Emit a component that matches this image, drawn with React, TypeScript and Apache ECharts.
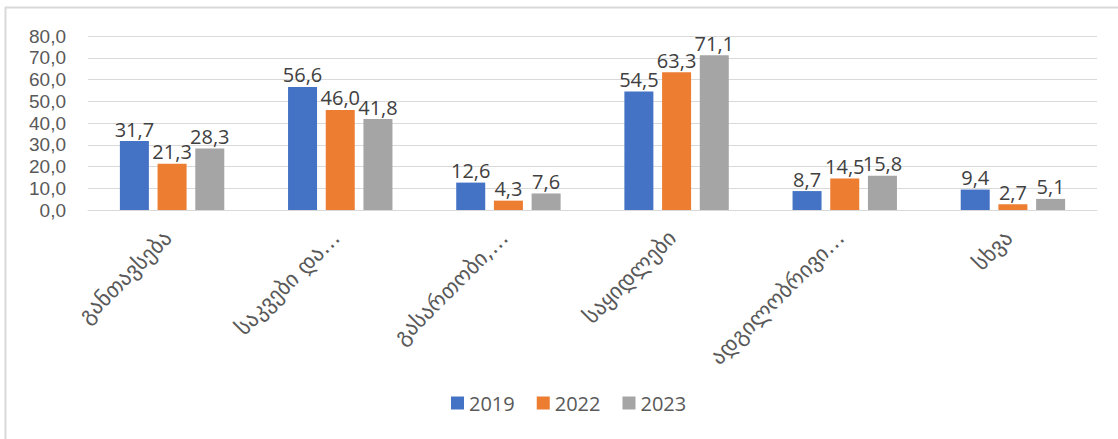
import React, { useEffect, useRef } from "react";
import * as echarts from "echarts";

const categories = [
  "განთავსება",
  "საკვები და…",
  "გასართობი,…",
  "საყიდლები",
  "ადგილობრივი…",
  "სხვა",
];
const seriesNames = ["2019", "2022", "2023"];
const values2019 = [31.7, 56.6, 12.6, 54.5, 8.7, 9.4];
const values2022 = [21.3, 46.0, 4.3, 63.3, 14.5, 2.7];
const values2023 = [28.3, 41.8, 7.6, 71.1, 15.8, 5.1];
const colors = ["#4472C4", "#ED7D31", "#A5A5A5"];

const fmt = (v: number) => v.toFixed(1).replace(".", ",");

export default function App() {
  const ref = useRef<HTMLDivElement>(null);
  useEffect(() => {
    document.body.style.margin = "0";
    const chart = echarts.init(ref.current!, null, { renderer: "svg" });
    const data = [values2019, values2022, values2023];
    chart.setOption({
      animation: false,
      backgroundColor: "#ffffff",
      textStyle: { fontFamily: "Open Sans" },
      graphic: [
        {
          type: "line",
          shape: { x1: 5.5, y1: 7, x2: 5.5, y2: 439 },
          style: { stroke: "#d9d9d9", lineWidth: 2 },
        },
        {
          type: "line",
          shape: { x1: 5, y1: 7.5, x2: 1118, y2: 7.5 },
          style: { stroke: "#d9d9d9", lineWidth: 2 },
        },
      ],
      grid: { left: 88, right: 21, top: 36, bottom: 229 },
      legend: {
        data: seriesNames,
        top: 388,
        left: 446,
        itemWidth: 13,
        itemHeight: 13,
        itemGap: 22,
        icon: "rect",
        textStyle: { fontSize: 20, color: "#595959", fontFamily: "Open Sans" },
      },
      xAxis: {
        type: "category",
        data: categories,
        axisLine: { lineStyle: { color: "#d9d9d9", width: 1 } },
        axisTick: { show: false },
        axisLabel: {
          rotate: 45,
          interval: 0,
          margin: 20,
          padding: [0, 6, 0, 0],
          fontSize: 22,
          color: "#595959",
          fontFamily: "DejaVu Sans",
        },
      },
      yAxis: {
        type: "value",
        min: 0,
        max: 80,
        interval: 10,
        axisLine: { show: false },
        axisTick: { show: false },
        splitLine: { lineStyle: { color: "#d9d9d9", width: 1 } },
        axisLabel: {
          formatter: (v: number) => fmt(v),
          fontSize: 19,
          lineHeight: 19,
          color: "#595959",
          fontFamily: "Liberation Sans",
          margin: 22,
        },
      },
      series: seriesNames.map((name, i) => ({
        name,
        type: "bar",
        data: data[i],
        barWidth: 29,
        barGap: "30%",
        itemStyle: { color: colors[i] },
        label: {
          show: true,
          position: "top",
          distance: 2,
          formatter: (p: any) => fmt(p.value),
          fontSize: 20,
          color: "#404040",
          fontFamily: "Open Sans",
        },
      })),
    });
    return () => chart.dispose();
  }, []);
  return <div ref={ref} style={{ width: 1118, height: 439 }} />;
}
